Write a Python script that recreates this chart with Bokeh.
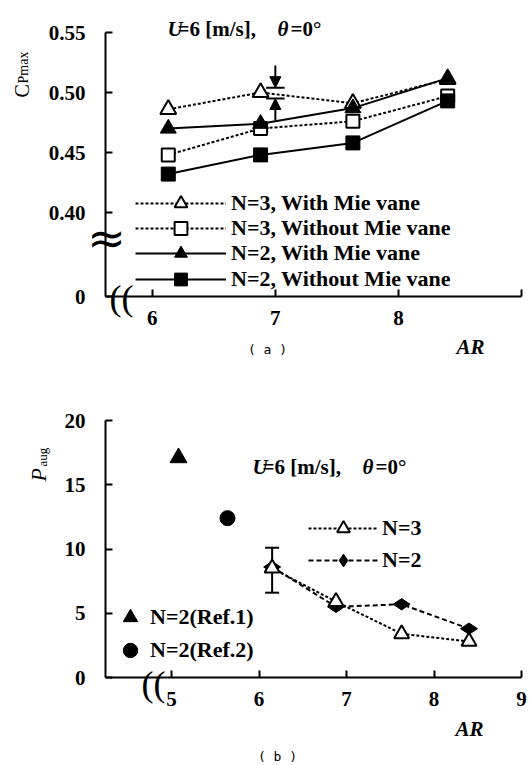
import math
from bokeh.plotting import figure
from bokeh.layouts import column
from bokeh.models import (Legend, LegendItem, Label, Arrow, NormalHead, TeeHead,
                          Whisker, ColumnDataSource, FixedTicker, Range1d,
                          PrintfTickFormatter)
from bokeh.embed import file_html
from bokeh.resources import INLINE

# ---------------- data (a): C_Pmax vs AR ----------------
ar_a = [6.13, 6.88, 7.63, 8.40]
cp_n3_with = [0.486, 0.500, 0.491, 0.511]
cp_n3_without = [0.448, 0.470, 0.476, 0.497]
cp_n2_with = [0.470, 0.474, 0.487, 0.512]
cp_n2_without = [0.432, 0.448, 0.458, 0.493]
a_xticks = [6, 7, 8, 9]
a_yticks = [0.33, 0.40, 0.45, 0.50, 0.55]
gap_ar = 7.0
gap_top = 0.504
gap_bottom = 0.495

# ---------------- data (b): P_aug vs AR ----------------
ar_b = [6.15, 6.88, 7.63, 8.40]
paug_n3 = [8.5, 5.9, 3.4, 2.8]
paug_n2 = [8.6, 5.5, 5.7, 3.8]
ref1_ar = [5.08]
ref1_paug = [17.1]
ref2_ar = [5.64]
ref2_paug = [12.4]
err_ar = [6.15]
err_low = [6.6]
err_high = [10.1]
b_xticks = [5, 6, 7, 8, 9]
b_yticks = [0, 5, 10, 15, 20]

SERIF = "Liberation Serif"
FS = "21px"
LFS = "22px"
W = 529
HA = 380
HB = 385


def style(p):
    p.grid.visible = False
    p.outline_line_color = None
    p.background_fill_color = "white"
    p.border_fill_color = "white"
    for ax in p.axis:
        ax.axis_line_width = 2
        ax.axis_line_color = "black"
        ax.major_tick_line_width = 2
        ax.major_tick_line_color = "black"
        ax.major_tick_in = 7
        ax.major_tick_out = 0
        ax.minor_tick_line_color = None
        ax.major_label_text_font = SERIF
        ax.major_label_text_font_size = FS
        ax.major_label_text_font_style = "bold"
        ax.major_label_text_color = "black"
    p.xaxis.major_label_standoff = 14
    p.yaxis.major_label_standoff = 20


def lab(p, x, y, text, size=FS, fstyle="bold", font=SERIF, angle=0.0,
        align="left", baseline="alphabetic"):
    p.add_layout(Label(x=x, y=y, text=text, text_font=font, text_font_size=size,
                       text_font_style=fstyle, angle=angle, text_align=align,
                       text_baseline=baseline, text_color="black"))


def add_legend_rows(p, items, x_left, centers, gw, gh, standoff, fig_h, page_top):
    """One single-row legend per item, each row centred at a page y position."""
    for item, c in zip(items, centers):
        bottom_canvas = c + gh / 2.0 - page_top
        leg = Legend(items=[item], orientation="vertical", glyph_width=gw,
                     glyph_height=gh, label_height=gh, label_standoff=standoff,
                     padding=0, margin=0, spacing=0,
                     border_line_color=None, background_fill_alpha=0,
                     label_text_font=SERIF, label_text_font_size=LFS,
                     label_text_font_style="bold", label_text_color="black",
                     location=(x_left, fig_h - bottom_canvas))
        p.add_layout(leg)


# ======================= (a) =======================
def ax_(px):
    return 5.62 + (px - 105) / 123.08


def ay_(py):
    return 0.55 - (py - 32) / 1200.0


pa = figure(width=W, height=HA, x_range=Range1d(ax_(0), ax_(W)), y_range=Range1d(ay_(HA), ay_(0)),
            output_backend="svg", toolbar_location=None,
            min_border=0, min_border_left=0, min_border_right=0, min_border_top=0,
            min_border_bottom=0)
style(pa)
pa.xaxis.ticker = FixedTicker(ticks=a_xticks)
pa.xaxis.major_label_overrides = {9: ""}
pa.xaxis.fixed_location = a_yticks[0]
pa.xaxis.bounds = (ax_(105), a_xticks[-1])
pa.yaxis.ticker = FixedTicker(ticks=a_yticks)
pa.yaxis.formatter = PrintfTickFormatter(format="%.2f")
pa.yaxis.major_label_overrides = {0.33: "0"}
pa.yaxis.fixed_location = ax_(105)
pa.yaxis.bounds = (a_yticks[0], a_yticks[-1])

srcA = ColumnDataSource(dict(ar=ar_a, n3w=cp_n3_with, n3wo=cp_n3_without,
                             n2w=cp_n2_with, n2wo=cp_n2_without))
l1 = pa.line("ar", "n3w", source=srcA, line_color="black", line_width=2, line_dash="3 2")
s1 = pa.scatter("ar", "n3w", source=srcA, marker="triangle", size=16,
                fill_color="white", line_color="black", line_width=2)
l2 = pa.line("ar", "n3wo", source=srcA, line_color="black", line_width=2, line_dash="3 2")
s2 = pa.scatter("ar", "n3wo", source=srcA, marker="square", size=13,
                fill_color="white", line_color="black", line_width=2)
l3 = pa.line("ar", "n2w", source=srcA, line_color="black", line_width=2)
s3 = pa.scatter("ar", "n2w", source=srcA, marker="triangle", size=16,
                fill_color="black", line_color="black", line_width=1)
l4 = pa.line("ar", "n2wo", source=srcA, line_color="black", line_width=2)
s4 = pa.scatter("ar", "n2wo", source=srcA, marker="square", size=14,
                fill_color="black", line_color="black", line_width=1)

add_legend_rows(pa, [
    LegendItem(label="N=3, With Mie vane", renderers=[l1, s1]),
    LegendItem(label="N=3, Without Mie vane", renderers=[l2, s2]),
    LegendItem(label="N=2, With Mie vane", renderers=[l3, s3]),
    LegendItem(label="N=2, Without Mie vane", renderers=[l4, s4]),
], x_left=135, centers=[203, 228, 253, 279], gw=91, gh=32, standoff=5, fig_h=HA, page_top=0)

# gap arrows at AR = 7
head = dict(size=11, fill_color="black", line_color="black", line_width=1)
pa.add_layout(Arrow(x_start=gap_ar, y_start=ay_(65), x_end=gap_ar, y_end=gap_top,
                    end=NormalHead(**head), line_width=2, line_color="black"))
pa.add_layout(Arrow(x_start=gap_ar, y_start=ay_(120), x_end=gap_ar, y_end=gap_bottom,
                    end=NormalHead(**head), line_width=2, line_color="black"))
for yy in (gap_top, gap_bottom):
    pa.add_layout(Arrow(x_start=gap_ar - 0.075, y_start=yy, x_end=gap_ar + 0.075, y_end=yy,
                        end=None, line_width=2, line_color="black"))

# condition text
lab(pa, ax_(167), ay_(28), "U", fstyle="bold italic")
lab(pa, ax_(177), ay_(28), "=6 [m/s],")
lab(pa, ax_(277), ay_(28), "θ", fstyle="bold italic")
lab(pa, ax_(290), ay_(28), "=0°")

# axis titles
lab(pa, ax_(21), ay_(97), "C", size="20px", fstyle="normal", angle=math.pi / 2)
lab(pa, ax_(23), ay_(83), "Pmax", size="14px", fstyle="normal", angle=math.pi / 2)
lab(pa, ax_(456), ay_(346), "AR", fstyle="bold italic")

# axis breaks
lab(pa, ax_(106), ay_(237), "≈", size="46px", fstyle="normal", font="DejaVu Sans",
    align="center", baseline="middle")
lab(pa, ax_(121), ay_(297), "((", size="36px", fstyle="normal", font=SERIF,
    align="center", baseline="middle")

lab(pa, ax_(267), ay_(349), "( a )", size="13px", fstyle="normal",
    font="DejaVu Sans Mono", align="center", baseline="middle")


# ======================= (b) =======================
def bx_(px):
    return 4.2457 + (px - 105) / 87.5


def by_(py):
    return (677 - py) / 12.85


pb = figure(width=W, height=HB, x_range=Range1d(bx_(0), bx_(W)),
            y_range=Range1d(by_(HA + HB), by_(HA)),
            output_backend="svg", toolbar_location=None,
            min_border=0, min_border_left=0, min_border_right=0, min_border_top=0,
            min_border_bottom=0)
style(pb)
pb.xaxis.ticker = FixedTicker(ticks=b_xticks)
pb.xaxis.fixed_location = b_yticks[0]
pb.xaxis.bounds = (bx_(105), b_xticks[-1])
pb.yaxis.ticker = FixedTicker(ticks=b_yticks)
pb.yaxis.fixed_location = bx_(105)
pb.yaxis.bounds = (b_yticks[0], b_yticks[-1])

srcB = ColumnDataSource(dict(ar=ar_b, n3=paug_n3, n2=paug_n2))
m2 = pb.line("ar", "n2", source=srcB, line_color="black", line_width=2, line_dash="5 3")
d2 = pb.scatter("ar", "n2", source=srcB, marker="diamond", size=17, angle=math.pi / 2,
                fill_color="black", line_color="black", line_width=1)
m3 = pb.line("ar", "n3", source=srcB, line_color="black", line_width=2, line_dash="3 2")
t3 = pb.scatter("ar", "n3", source=srcB, marker="triangle", size=15,
                fill_color="white", line_color="black", line_width=2)
r1 = pb.scatter(ref1_ar, ref1_paug, marker="triangle", size=17, fill_color="black",
                line_color="black")
r2 = pb.scatter(ref2_ar, ref2_paug, marker="circle", size=15, fill_color="black",
                line_color="black")

srcE = ColumnDataSource(dict(ar=err_ar, lo=err_low, hi=err_high))
pb.add_layout(Whisker(base="ar", lower="lo", upper="hi", source=srcE, dimension="height",
                      line_width=2, line_color="black",
                      upper_head=TeeHead(size=14, line_width=2, line_color="black"),
                      lower_head=TeeHead(size=14, line_width=2, line_color="black")))

add_legend_rows(pb, [
    LegendItem(label="N=3", renderers=[m3, t3]),
    LegendItem(label="N=2", renderers=[m2, d2]),
], x_left=308, centers=[528, 560], gw=70, gh=32, standoff=4, fig_h=HB, page_top=HA)

add_legend_rows(pb, [
    LegendItem(label="N=2(Ref.1)", renderers=[r1]),
    LegendItem(label="N=2(Ref.2)", renderers=[r2]),
], x_left=112, centers=[617, 650], gw=36, gh=36, standoff=2, fig_h=HB, page_top=HA)

lab(pb, bx_(252), by_(466), "U", fstyle="bold italic")
lab(pb, bx_(262), by_(466), "=6 [m/s],")
lab(pb, bx_(362), by_(466), "θ", fstyle="bold italic")
lab(pb, bx_(375), by_(466), "=0°")

lab(pb, bx_(38), by_(481), "P", size="22px", fstyle="italic", angle=math.pi / 2)
lab(pb, bx_(42), by_(466), "aug", size="13px", fstyle="normal", angle=math.pi / 2)
lab(pb, bx_(455), by_(728), "AR", fstyle="bold italic")

lab(pb, bx_(153), by_(683), "((", size="36px", fstyle="normal", font=SERIF,
    align="center", baseline="middle")

lab(pb, bx_(277), by_(756), "( b )", size="13px", fstyle="normal",
    font="DejaVu Sans Mono", align="center", baseline="middle")

layout = column(pa, pb)
open("out.html", "w").write(file_html(layout, INLINE))
